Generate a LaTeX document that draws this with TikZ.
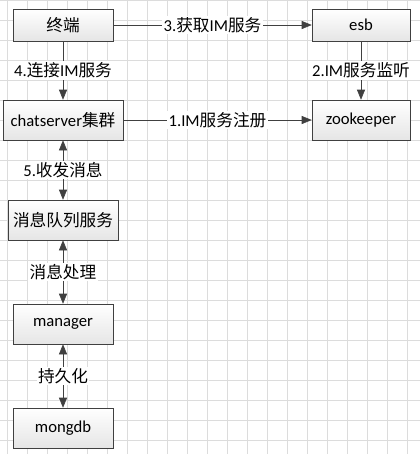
\documentclass[tikz,border=0pt]{standalone}
\usepackage{fontspec}
\setmainfont{Carlito}
\newfontfamily\cjk{Noto Sans CJK SC}
\usetikzlibrary{arrows.meta,shadows}
\definecolor{linegray}{HTML}{404040}
\definecolor{gridgray}{HTML}{DCDCDC}

\begin{document}
\begin{tikzpicture}[
    x=0.75pt, y=-0.75pt,
    node distance=223.5pt,
    every node/.style={font=\fontsize{12.5pt}{14pt}\selectfont},
    box/.style={draw=linegray, top color=white, bottom color=black!10,
        drop shadow={shadow xshift=1pt, shadow yshift=-1pt, fill=black!30, opacity=0.4},
        minimum height=30pt, align=center, inner sep=2pt},
    lbl/.style={fill=white, inner sep=1pt},
    link/.style={draw=linegray, -{Triangle[length=7.5pt,width=6pt]}},
    both/.style={draw=linegray, {Triangle[length=7.5pt,width=6pt]}-{Triangle[length=7.5pt,width=6pt]}}
]
% Background grid
\fill[white] (0,0) rectangle (420,454);
\useasboundingbox (0,0) rectangle (420,454);
\foreach \x in {7,27,...,407} \draw[gridgray, line width=0.6pt] (\x,0) -- (\x,454);
\foreach \y in {0,20,...,440} \draw[gridgray, line width=0.6pt] (0,\y) -- (420,\y);

% Nodes
\node[box, minimum width=75pt, minimum height=24pt] (term) at (63,25) {\cjk 终端};
\node[box, minimum width=73.5pt, minimum height=24pt, right of=term] (esb) {esb};
\node[box, minimum width=90pt] (chat) at (63,120) {chatserver{\cjk 集群}};
\node[box, minimum width=73.5pt, right of=chat] (zk) {zookeeper};
\node[box, minimum width=82.5pt] (mq) at (63,220) {\cjk 消息队列服务};
\node[box, minimum width=75pt] (mgr) at (63,324) {manager};
\node[box, minimum width=75pt] (db) at (63,428) {mongdb};

% Arrows with labels
\draw[link] (term) -- node[lbl] {3.{\cjk 获取}IM{\cjk 服务}} (esb);
\draw[link] (term) -- node[lbl] {4.{\cjk 连接}IM{\cjk 服务}} (chat);
\draw[link] (esb) -- node[lbl] {2.IM{\cjk 服务监听}} (zk);
\draw[link] (chat) -- node[lbl] {1.IM{\cjk 服务注册}} (zk);
\draw[both] (chat) -- node[lbl] {5.{\cjk 收发消息}} (mq);
\draw[both] (mq) -- node[lbl] {\cjk 消息处理} (mgr);
\draw[both] (mgr) -- node[lbl] {\cjk 持久化} (db);
\end{tikzpicture}
\end{document}
